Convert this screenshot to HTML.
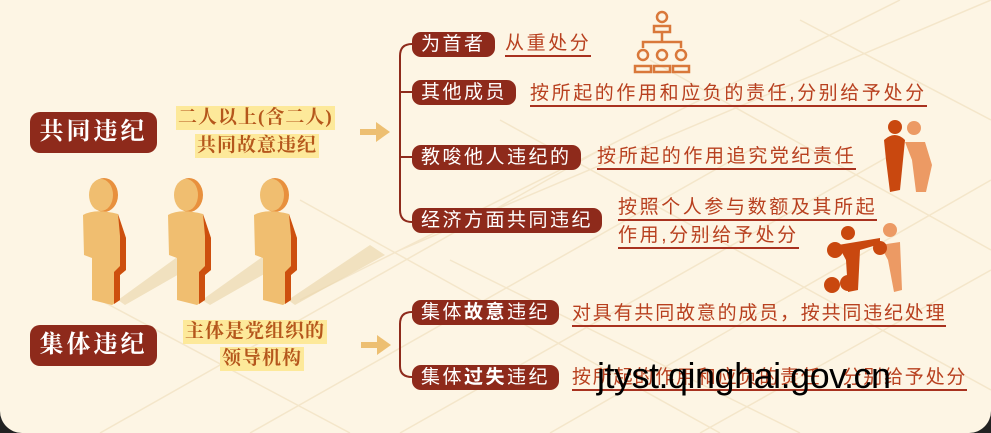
<!DOCTYPE html>
<html><head><meta charset="utf-8"><style>
*{margin:0;padding:0;box-sizing:border-box}
body{width:991px;height:433px;overflow:hidden;background:#222;position:relative;font-family:"Liberation Serif","Noto Serif CJK SC","Noto Sans CJK SC",serif}
#bg{position:absolute;left:0;top:0;width:991px;height:433px;background:#fdf5e4;border-radius:0 0 22px 22px;overflow:hidden}
.a{position:absolute;white-space:nowrap}
.big{background:#8e2a1b;color:#fff;font-weight:bold;font-size:24px;border-radius:10px;width:127px;height:41px;line-height:41px;text-align:center;letter-spacing:3px}
.hl{color:#b5571c;font-weight:bold;font-size:19px;background:#fde99a;padding:0 2px;letter-spacing:1px;line-height:24px}
.pill{background:#8e2a1b;color:#fff;font-size:19px;border-radius:9px;height:25px;line-height:25px;padding:0 9px;letter-spacing:2.5px;font-family:"Liberation Sans","Noto Sans CJK SC",sans-serif}
.d{color:#b8401f;font-size:19px;letter-spacing:2.6px;line-height:22px;border-bottom:2.5px solid #a8321f;font-family:"Liberation Sans","Noto Sans CJK SC",sans-serif}
</style></head><body>
<div id="bg">
<svg class="a" style="left:0;top:0" width="991" height="433">
<g stroke="#f4e6ca" stroke-width="1.5" fill="none">
<path d="M100 433 L600 150 M250 433 L750 150 M400 433 L900 150 M550 433 L991 180 M700 433 L991 270 M400 250 L991 0 M300 300 L900 0"/>
<path d="M100 300 L350 433 M300 200 L720 433 M500 120 L991 390 M650 60 L991 250 M800 20 L991 120 M450 260 L800 433"/>
</g>
<g stroke="#8e2a1b" stroke-width="2" fill="none">
<path d="M412 44 Q400 44 400 56 L400 210 Q400 222 412 222 M400 92 L412 92 M400 157 L412 157"/>
<path d="M412 312 Q400 312 400 324 L400 366 Q400 377 412 377"/>
</g>
<g fill="#edbf72">
<rect x="360" y="129" width="18" height="6"/><polygon points="376,122 390,132 376,142"/>
<rect x="361" y="342" width="18" height="6"/><polygon points="377,335 391,345 377,355"/>
</g>
<g fill="#ecd9b0" opacity="0.7">
<polygon points="118,300 180,255 195,265 125,305"/><polygon points="202,300 265,255 280,265 210,305"/><polygon points="288,300 370,245 385,255 295,305"/>
</g>
<g id="p">
<ellipse cx="104" cy="195" rx="14" ry="17" fill="#e8903d"/>
<ellipse cx="101" cy="195" rx="12" ry="16" fill="#f0be70"/>
<path d="M83 215 Q95 208 118 214 L126 238 L126 270 L120 275 L120 300 L112 305 L92 300 L92 258 L84 255 Z" fill="#f0be70"/>
<path d="M118 214 L126 238 L126 270 L120 275 L120 300 L114 304 L114 272 L120 266 L120 236 Z" fill="#cd4f0e"/>
</g>
<use href="#p" x="85"/><use href="#p" x="171"/>
<g stroke="#d9783a" stroke-width="2.5" fill="none">
<circle cx="662" cy="17" r="5"/><path d="M654 32 v-6 h16 v6 z"/>
<path d="M662 32 v10 M643 48 v-6 h38 v6"/>
<circle cx="643" cy="55" r="5"/><circle cx="662" cy="55" r="5"/><circle cx="681" cy="55" r="5"/>
<path d="M635 72 v-6 h16 v6z M654 72 v-6 h16 v6z M673 72 v-6 h16 v6z"/>
</g>
<circle cx="895" cy="127" r="7" fill="#c9480f"/><path d="M884 140 Q895 130 905 140 L900 190 L890 192 L886 160 Z" fill="#c9480f"/>
<circle cx="914" cy="128" r="7" fill="#ec9a64"/><path d="M905 142 L925 142 L932 165 L926 192 L916 192 L912 160 Z" fill="#ec9a64"/>
<circle cx="848" cy="233" r="7" fill="#c9480f"/><path d="M838 245 L880 238 L880 244 L860 250 L858 290 L848 292 L846 260 Z" fill="#c9480f"/>
<circle cx="890" cy="230" r="7" fill="#ec9a64"/><path d="M880 245 L900 242 L902 290 L894 292 L888 260 Z" fill="#ec9a64"/>
<g fill="#c9480f"><circle cx="835" cy="250" r="8"/><circle cx="880" cy="248" r="7"/><circle cx="832" cy="285" r="8"/><circle cx="848" cy="283" r="8"/></g>
</svg>
<div class="a big" style="left:30px;top:112px">共同违纪</div>
<div class="a big" style="left:30px;top:325px">集体违纪</div>
<div class="a hl" style="left:176px;top:106px">二人以上(含二人)</div>
<div class="a hl" style="left:195px;top:134px">共同故意违纪</div>
<div class="a hl" style="left:183px;top:320px">主体是党组织的</div>
<div class="a hl" style="left:220px;top:347px">领导机构</div>
<div class="a pill" style="left:412px;top:32px">为首者</div>
<div class="a d" style="left:505px;top:33px">从重处分</div>
<div class="a pill" style="left:412px;top:80px">其他成员</div>
<div class="a d" style="left:530px;top:83px">按所起的作用和应负的责任,分别给予处分</div>
<div class="a pill" style="left:412px;top:145px">教唆他人违纪的</div>
<div class="a d" style="left:597px;top:146px">按所起的作用追究党纪责任</div>
<div class="a pill" style="left:412px;top:208px">经济方面共同违纪</div>
<div class="a d" style="left:618px;top:197px">按照个人参与数额及其所起</div>
<div class="a d" style="left:618px;top:225px">作用,分别给予处分</div>
<div class="a pill" style="left:412px;top:300px">集体<b>故意</b>违纪</div>
<div class="a d" style="left:572px;top:303px;letter-spacing:1.8px">对具有共同故意的成员，按共同违纪处理</div>
<div class="a pill" style="left:412px;top:365px">集体<b>过失</b>违纪</div>
<div class="a d" style="left:572px;top:367px;letter-spacing:1.8px">按所起的作用和应负的责任，分别给予处分</div>
<div class="a" style="left:597px;top:355px;font-family:'Liberation Sans',sans-serif;font-size:36px;color:#000;letter-spacing:-0.5px">jtyst.qinghai.gov.cn</div>
</div>
</body></html>
